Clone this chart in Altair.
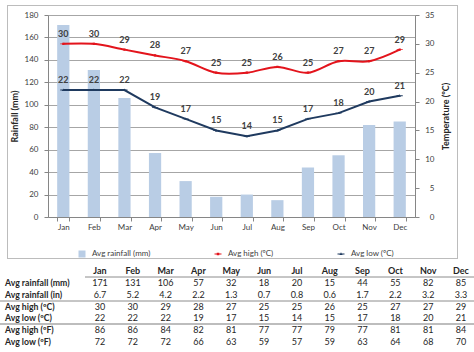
import altair as alt
import pandas as pd

# ---------------- data ----------------
months = ["Jan", "Feb", "Mar", "Apr", "May", "Jun", "Jul", "Aug", "Sep", "Oct", "Nov", "Dec"]
rain_mm = [171, 131, 106, 57, 32, 18, 20, 15, 44, 55, 82, 85]
rain_in = [6.7, 5.2, 4.2, 2.2, 1.3, 0.7, 0.8, 0.6, 1.7, 2.2, 3.2, 3.3]
high_c = [30, 30, 29, 28, 27, 25, 25, 26, 25, 27, 27, 29]
low_c = [22, 22, 22, 19, 17, 15, 14, 15, 17, 18, 20, 21]
high_f = [86, 86, 84, 82, 81, 77, 77, 79, 77, 81, 81, 84]
low_f = [72, 72, 72, 66, 63, 59, 57, 59, 63, 64, 68, 70]

series = ["Avg rainfall (mm)", "Avg high (ºC)", "Avg low (ºC)"]
row_names = ["Avg rainfall (mm)", "Avg rainfall (in)", "Avg high (ºC)",
             "Avg low (ºC)", "Avg high (ºF)", "Avg low (ºF)"]

# ---------------- tables built from the arrays ----------------
rain_df = pd.DataFrame({"month": months, "rain": rain_mm, "series": series[0]})
temp_df = pd.concat([
    pd.DataFrame({"month": months, "temp": high_c, "series": series[1]}),
    pd.DataFrame({"month": months, "temp": low_c, "series": series[2]}),
], ignore_index=True)

table_rows = [
    (row_names[0], [str(v) for v in rain_mm]),
    (row_names[1], [f"{v:.1f}" for v in rain_in]),
    (row_names[2], [str(v) for v in high_c]),
    (row_names[3], [str(v) for v in low_c]),
    (row_names[4], [str(v) for v in high_f]),
    (row_names[5], [str(v) for v in low_f]),
]
cells = []
for name, vals in table_rows:
    for m, t in zip(months, vals):
        cells.append({"row": name, "month": m, "text": t})
cells_df = pd.DataFrame(cells)
header_df = pd.DataFrame({"row": "hdr", "month": months, "text": months})
rowlab_df = pd.DataFrame({"row": row_names})

FONT = "Lato"
TXT = "#262626"
AX = "#868686"

colors = ["#b9cde5", "#e3141c", "#1f3a5f"]
shapes = [
    "M-0.5,-0.5H0.5V0.5H-0.5Z",
    "M-0.5,-0.07H0.5V0.07H-0.5Z M-0.18,-0.18H0.18V0.18H-0.18Z",
    "M-0.5,-0.07H0.5V0.07H-0.5Z M0,-0.24L0.22,0.16H-0.22Z",
]
color_scale = alt.Scale(domain=series, range=colors)
shape_scale = alt.Scale(domain=series, range=shapes)

legend = alt.Legend(title=None, orient="none", legendX=27, legendY=232,
                    direction="horizontal", symbolSize=196, symbolStrokeWidth=0,
                    labelFont=FONT, labelFontSize=8, labelColor="#404040",
                    columnPadding=60, labelOffset=3, padding=0)

x_axis = alt.Axis(title=None, tickBand="extent", domainColor=AX, tickColor=AX,
                  tickSize=4, labelPadding=2, labelFontSize=8, labelColor="#404040",
                  labelAngle=0, labelFont=FONT, grid=False)
x_chart = alt.X("month:N", sort=months,
                scale=alt.Scale(domain=months, paddingInner=0.6, paddingOuter=0.3),
                axis=x_axis)

left_axis = alt.Axis(values=list(range(0, 181, 20)), title="Rainfall (mm)", grid=True,
                     gridColor="#a6a6a6", domainColor=AX, tickColor=AX, tickSize=4,
                     labelPadding=6, labelFontSize=8, labelColor="#404040", labelFont=FONT,
                     titleFont=FONT, titleFontSize=9, titleFontWeight="bold",
                     titleColor=TXT, titlePadding=5)
right_axis = alt.Axis(orient="right", values=list(range(0, 36, 5)),
                      title="Temperature (ºC)", grid=False, domainColor=AX,
                      tickColor=AX, tickSize=4, labelPadding=15, labelAlign="right",
                      labelFontSize=8, labelColor="#404040", labelFont=FONT,
                      titleFont=FONT, titleFontSize=9, titleFontWeight="bold",
                      titleColor=TXT, titlePadding=16, titleAngle=270)
y_temp = alt.Y("temp:Q", scale=alt.Scale(domain=[0, 35]), axis=right_axis)

bars = alt.Chart(rain_df).mark_bar().encode(
    x=x_chart,
    y=alt.Y("rain:Q", scale=alt.Scale(domain=[0, 180]), axis=left_axis),
    color=alt.Color("series:N", scale=color_scale, legend=legend),
)

high_line = alt.Chart(temp_df).transform_filter(
    alt.datum.series == series[1]
).mark_line(color=colors[1], strokeWidth=2, interpolate="catmull-rom").encode(x=x_chart, y=y_temp)
low_line = alt.Chart(temp_df).transform_filter(
    alt.datum.series == series[2]
).mark_line(color=colors[2], strokeWidth=2).encode(x=x_chart, y=y_temp)
pts = alt.Chart(temp_df).mark_point(filled=True, size=150, opacity=1).encode(
    x=x_chart, y=y_temp,
    color=alt.Color("series:N", scale=color_scale, legend=legend),
    shape=alt.Shape("series:N", scale=shape_scale, legend=legend),
)
lbls = alt.Chart(temp_df).mark_text(dy=-10, font=FONT, fontSize=9, fontWeight="bold",
                                    color="#404040").encode(x=x_chart, y=y_temp, text="temp:Q")

temp_layer = alt.layer(high_line, low_line, pts, lbls)
chart_layer = alt.layer(bars, temp_layer).resolve_scale(y="independent")

# ---------------- table ----------------
tx = alt.X("month:N", sort=months,
           scale=alt.Scale(type="point", domain=months, range=[52, 413], padding=0), axis=None)
ty = alt.Y("row:N", scale=alt.Scale(type="point", domain=["hdr"] + row_names,
                                    range=[256, 327], padding=0), axis=None)

hdr = alt.Chart(header_df).mark_text(font=FONT, fontSize=9, fontWeight="bold",
                                     color=TXT).encode(x=tx, y=ty, text="text:N")
vals = alt.Chart(cells_df).mark_text(font=FONT, fontSize=9, color=TXT).encode(
    x=tx, y=ty, text="text:N")
rlab = alt.Chart(rowlab_df).mark_text(font=FONT, fontSize=8.7, fontWeight="bold",
                                      color=TXT, align="left").encode(
    x=alt.value(-43), y=ty, text="row:N")
table_layer = alt.layer(hdr, vals, rlab)

FR = "#bcbcbc"
frame_df = pd.DataFrame({"k": [1]})
frame_top = alt.Chart(frame_df).mark_rule(color=FR, strokeWidth=1).encode(
    x=alt.value(-41), x2=alt.value(410), y=alt.value(-9.5))
frame_bot = alt.Chart(frame_df).mark_rule(color=FR, strokeWidth=1).encode(
    x=alt.value(-41), x2=alt.value(410), y=alt.value(243.5))
frame_l = alt.Chart(frame_df).mark_rule(color=FR, strokeWidth=1).encode(
    x=alt.value(-40.5), y=alt.value(-10), y2=alt.value(244))
frame_r = alt.Chart(frame_df).mark_rule(color=FR, strokeWidth=1).encode(
    x=alt.value(409.5), y=alt.value(-10), y2=alt.value(244))

one = alt.Data(values=[{"k": 1}])
rule1 = alt.Chart(one).mark_rule(color="#8c8c8c", strokeWidth=1).encode(
    x=alt.value(37), x2=alt.value(426), y=alt.value(262))
rule2 = alt.Chart(one).mark_rule(color="#8c8c8c", strokeWidth=1).encode(
    x=alt.value(-48), x2=alt.value(426), y=alt.value(286))
rule3 = alt.Chart(one).mark_rule(color="#bdbdbd", strokeWidth=2).encode(
    x=alt.value(-48), x2=alt.value(426), y=alt.value(309))

chart = alt.layer(frame_top, frame_bot, frame_l, frame_r, chart_layer, table_layer,
                  rule1, rule2, rule3).resolve_scale(
    x="independent", y="independent"
).properties(
    width=367, height=202,
    padding={"left": 48, "top": 15, "right": 59, "bottom": 135},
    autosize=alt.AutoSizeParams(type="none"),
    background="white",
).configure_view(strokeWidth=0).configure(font=FONT)

chart.save("out.html", embed_options={"renderer": "svg", "actions": False})
